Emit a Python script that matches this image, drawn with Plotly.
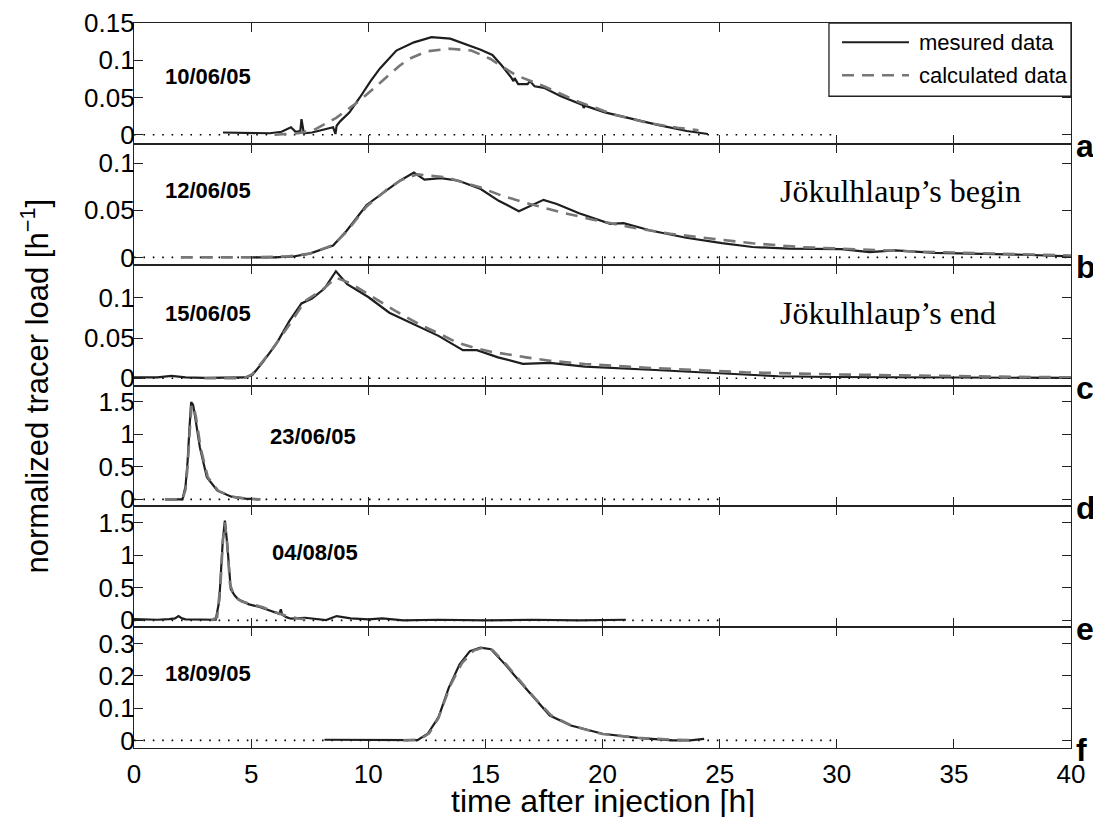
import plotly.graph_objects as go
from plotly.subplots import make_subplots

# ---------------- data ----------------
# panel a: 10/06/05
a_t = [3.8, 4.5, 5.2, 5.8, 6.3, 6.7, 6.9, 7.1, 7.15, 7.25, 7.6, 8.0, 8.5, 8.6, 8.65, 8.8, 9.2, 9.64, 10.1, 10.5, 11.2,
       11.95, 12.7, 13.5, 14.3, 14.8, 15.3, 15.7, 16.1, 16.2, 16.25, 16.4, 16.8, 16.9, 17.1, 17.5, 18.2, 19.15, 19.2,
       19.25, 20.1, 21.3, 22.4, 23.6, 24.5]
a_y = [0.003, 0.003, 0.002, 0.002, 0.004, 0.010, 0.004, 0.005, 0.021, 0.002, 0.003, 0.006, 0.010, 0.001, 0.012,
       0.018, 0.030, 0.050, 0.072, 0.089, 0.113, 0.124, 0.131, 0.129, 0.120, 0.114, 0.107, 0.093, 0.077, 0.072,
       0.076, 0.068, 0.068, 0.072, 0.065, 0.063, 0.052, 0.040, 0.036, 0.039, 0.030, 0.021, 0.013, 0.005, 0.001]
ac_t = [6.0, 7.0, 7.65, 8.65, 9.64, 10.5, 11.35, 11.76, 12.5, 13.5, 14.4, 15.2, 16.3, 17.5, 19.0, 20.5, 22.0, 23.2, 24.1]
ac_y = [0.0, 0.002, 0.006, 0.023, 0.046, 0.069, 0.093, 0.102, 0.112, 0.1155, 0.113, 0.102, 0.080, 0.065, 0.044,
        0.027, 0.0155, 0.0095, 0.006]

# panel b: 12/06/05
b_t = [5.0, 6.0, 6.8, 7.5, 8.5, 9.07, 9.93, 10.8, 11.35, 11.95, 12.4, 13.1, 13.86, 14.8, 15.57, 16.43, 17.48, 18.05,
       19.0, 20.33, 20.9, 22.05, 23.57, 25.1, 26.4, 27.95, 30.2, 31.4, 32.5, 34.2, 36.1, 38.0, 40.0]
b_y = [0.0, 0.0, 0.001, 0.004, 0.0126, 0.028, 0.0556, 0.071, 0.0813, 0.090, 0.0824, 0.084, 0.0813, 0.0725, 0.060,
       0.049, 0.061, 0.0567, 0.0468, 0.0356, 0.0363, 0.0285, 0.0208, 0.0151, 0.011, 0.0092, 0.0088, 0.0056, 0.0074,
       0.0049, 0.0039, 0.0028, 0.001]
bc_t = [2.0, 5.0, 6.5, 7.5, 8.5, 9.07, 9.93, 10.8, 11.4, 12.1, 13.3, 14.8, 15.7, 16.9, 18.2, 19.6, 21.2, 22.9, 24.7,
        26.4, 28.5, 31.0, 33.3, 36.0, 40.0]
bc_y = [0.0, 0.0, 0.001, 0.004, 0.013, 0.027, 0.054, 0.072, 0.082, 0.088, 0.085, 0.074, 0.0655, 0.0567, 0.048, 0.040,
        0.032, 0.025, 0.0197, 0.015, 0.0109, 0.0081, 0.0063, 0.0046, 0.002]

# panel c: 15/06/05
c_t = [0.0, 1.0, 1.6, 2.2, 3.0, 4.0, 4.75, 5.05, 5.5, 6.1, 6.63, 7.15, 7.6, 8.13, 8.62, 9.1, 10.0, 10.9, 11.95, 13.0,
       14.04, 14.64, 15.54, 16.6, 17.75, 19.25, 22.25, 24.94, 27.5, 29.7, 32.7, 40.0]
c_y = [0.001, 0.001, 0.003, 0.001, 0.0005, 0.001, 0.001, 0.004, 0.02, 0.044, 0.071, 0.093, 0.099, 0.1115, 0.133,
       0.117, 0.101, 0.0815, 0.067, 0.0527, 0.035, 0.035, 0.026, 0.018, 0.019, 0.0144, 0.0103, 0.0066, 0.0025,
       0.0016, 0.0012, 0.0004]
cc_t = [3.0, 4.7, 5.05, 5.8, 6.55, 7.3, 8.05, 8.62, 9.25, 10.15, 11.2, 12.25, 13.0, 13.74, 14.5, 15.24, 16.0, 16.74,
        17.75, 19.25, 21.5, 23.74, 26.1, 29.7, 32.7, 36.5, 40.0]
cc_y = [0.0, 0.0, 0.005, 0.032, 0.063, 0.096, 0.110, 0.125, 0.118, 0.102, 0.083, 0.066, 0.056, 0.045, 0.038, 0.033,
        0.029, 0.026, 0.0218, 0.0177, 0.0136, 0.0103, 0.0074, 0.0049, 0.0033, 0.0021, 0.0012]

# panel d: 23/06/05
d_t = [1.32, 2.07, 2.2, 2.29, 2.37, 2.44, 2.52, 2.59, 2.81, 3.11, 3.56, 4.16, 4.76, 5.36]
d_y = [0.0, 0.0, 0.2, 0.59, 1.1, 1.49, 1.45, 1.31, 0.80, 0.34, 0.133, 0.041, 0.01, 0.0]
dc_t = [1.32, 2.07, 2.2, 2.3, 2.38, 2.46, 2.55, 2.65, 2.85, 3.15, 3.6, 4.2, 4.8, 5.4]
dc_y = [0.0, 0.0, 0.15, 0.55, 1.05, 1.45, 1.42, 1.25, 0.78, 0.34, 0.13, 0.04, 0.01, 0.0]

# panel e: 04/08/05
e_t = [0.0, 0.5, 1.0, 1.5, 1.75, 1.9, 2.05, 2.2, 2.8, 3.49, 3.64, 3.79, 3.88, 3.98, 4.13, 4.3, 4.46, 4.91, 5.36, 5.81,
       6.2, 6.27, 6.32, 6.5, 6.7, 7.3, 7.8, 8.2, 8.65, 9.25, 10.0, 10.6, 11.5, 13.0, 15.0, 17.0, 19.0, 21.0]
e_y = [0.02, 0.01, 0.01, 0.02, 0.03, 0.066, 0.03, 0.015, 0.01, 0.01, 0.3, 1.22, 1.53, 1.17, 0.48, 0.38, 0.32, 0.246,
       0.205, 0.143, 0.1, 0.17, 0.09, 0.05, 0.026, 0.04, 0.02, 0.005, 0.066, 0.03, 0.015, 0.03, 0.0, 0.01, 0.0, 0.01,
       0.0, 0.01]
ec_t = [3.3, 3.55, 3.7, 3.8, 3.88, 3.97, 4.1, 4.3, 4.6, 5.0, 5.5, 6.0, 6.5, 7.0, 7.5]
ec_y = [0.0, 0.05, 0.6, 1.25, 1.5, 1.2, 0.55, 0.36, 0.29, 0.25, 0.2, 0.13, 0.07, 0.03, 0.01]

# panel f: 18/09/05
f_t = [8.13, 9.0, 10.0, 11.0, 12.1, 12.54, 13.0, 13.44, 13.9, 14.34, 14.79, 15.24, 15.84, 16.44, 17.04, 17.75, 18.65,
       20.0, 21.5, 23.0, 23.74, 24.34]
f_y = [0.002, 0.002, 0.001, 0.0, 0.001, 0.0206, 0.072, 0.164, 0.236, 0.277, 0.288, 0.283, 0.236, 0.185, 0.134,
       0.077, 0.046, 0.0206, 0.008, 0.0, 0.0, 0.005]
fc_t = [11.5, 12.2, 12.6, 13.0, 13.5, 14.0, 14.5, 14.9, 15.3, 15.9, 16.5, 17.1, 17.8, 18.7, 20.0, 21.5, 23.0, 24.0]
fc_y = [0.0, 0.003, 0.022, 0.07, 0.17, 0.24, 0.279, 0.288, 0.281, 0.235, 0.183, 0.132, 0.078, 0.045, 0.02, 0.008,
        0.002, 0.001]

dates = ["10/06/05", "12/06/05", "15/06/05", "23/06/05", "04/08/05", "18/09/05"]
letters = ["a", "b", "c", "d", "e", "f"]
zero_end = [30, 40, 40, 25, 25, 30]
yranges = [[-0.0122, 0.15], [-0.0077, 0.1204], [-0.009, 0.1412], [-0.107, 1.745], [-0.104, 1.748], [-0.0236, 0.3515]]
ytickvals = [[0, 0.05, 0.1, 0.15], [0, 0.05, 0.1], [0, 0.05, 0.1], [0, 0.5, 1, 1.5], [0, 0.5, 1, 1.5], [0, 0.1, 0.2, 0.3]]
yticktext = [["0", "0.05", "0.1", "0.15"], ["0", "0.05", "0.1"], ["0", "0.05", "0.1"], ["0", "0.5", "1", "1.5"],
             ["0", "0.5", "1", "1.5"], ["0", "0.1", "0.2", "0.3"]]
xticks = [0, 5, 10, 15, 20, 25, 30, 35, 40]
legend_labels = ["mesured data", "calculated data"]
measured = [(a_t, a_y), (b_t, b_y), (c_t, c_y), (d_t, d_y), (e_t, e_y), (f_t, f_y)]
calculated = [(ac_t, ac_y), (bc_t, bc_y), (cc_t, cc_y), (dc_t, dc_y), (ec_t, ec_y), (fc_t, fc_y)]
date_pos = [(1.24, 0.56), (1.24, 0.61), (1.24, 0.60), (5.72, 0.58), (5.8, 0.62), (1.24, 0.62)]

SANS = "Liberation Sans, Arial, Helvetica, sans-serif"
SERIF = "Liberation Serif, Times New Roman, serif"
AX = "#222222"
MEAS = dict(color="#1e1e1e", width=2.2)
CALC = dict(color="#777777", width=2.6, dash="12px,8px")

fig = make_subplots(rows=6, cols=1, shared_xaxes=True, vertical_spacing=0)

for i in range(6):
    r = i + 1
    fig.add_trace(go.Scatter(x=[0, zero_end[i]], y=[0, 0], mode="lines",
                             line=dict(color="black", width=1.6, dash="1.6px,7.8px"),
                             showlegend=False, hoverinfo="skip"), row=r, col=1)
    mt, my = measured[i]
    fig.add_trace(go.Scatter(x=mt, y=my, mode="lines", name=legend_labels[0], line=MEAS,
                             showlegend=False), row=r, col=1)
    ct, cy = calculated[i]
    fig.add_trace(go.Scatter(x=ct, y=cy, mode="lines", name=legend_labels[1], line=CALC,
                             showlegend=False), row=r, col=1)

    fig.update_yaxes(range=yranges[i], tickvals=ytickvals[i], ticktext=yticktext[i],
                     ticks="inside", ticklen=9, tickwidth=1.3, tickcolor=AX,
                     showline=True, linecolor=AX, linewidth=1.3, mirror="allticks",
                     showgrid=False, zeroline=False, fixedrange=True, ticklabelstandoff=-7,
                     automargin=False,
                     tickfont=dict(family=SANS, size=26, color="black"), row=r, col=1)
    fig.update_xaxes(range=[0, 40], tickvals=xticks, ticktext=[str(v) for v in xticks],
                     ticks="inside", ticklen=9, tickwidth=1.3, tickcolor=AX,
                     showline=True, linecolor=AX, linewidth=1.3, mirror="allticks",
                     showgrid=False, zeroline=False, showticklabels=(i == 5), ticklabelstandoff=3,
                     automargin=False,
                     tickfont=dict(family=SANS, size=26, color="black"), row=r, col=1)

    yref = "y domain" if i == 0 else "y%d domain" % r
    xref = "x" if i == 0 else "x%d" % r
    fig.add_annotation(x=date_pos[i][0], y=date_pos[i][1], xref=xref, yref=yref, text="<b>%s</b>" % dates[i],
                       showarrow=False, xanchor="left", yanchor="middle",
                       font=dict(family=SANS, size=22, color="black"))
    fig.add_annotation(x=1.0, y=0, xref="paper", yref=yref, text="<b>%s</b>" % letters[i],
                       showarrow=False, xanchor="left", yanchor="middle", xshift=3, yshift=-2,
                       font=dict(family=SANS, size=32, color="black"))

fig.add_annotation(x=27.5, y=0.61, xref="x2", yref="y2 domain", text="Jökulhlaup’s begin", showarrow=False,
                   xanchor="left", yanchor="middle", font=dict(family=SERIF, size=32, color="black"))
fig.add_annotation(x=27.5, y=0.60, xref="x3", yref="y3 domain", text="Jökulhlaup’s end", showarrow=False,
                   xanchor="left", yanchor="middle", font=dict(family=SERIF, size=32, color="black"))

fig.add_annotation(x=-0.1057, y=0.5, xref="paper", yref="paper", text="normalized tracer load [h<sup>−1</sup>]",
                   textangle=-90, showarrow=False, xanchor="center", yanchor="middle",
                   font=dict(family=SANS, size=31, color="black"))
fig.add_annotation(x=0.501, y=-0.0731, xref="paper", yref="paper", text="time after injection [h]",
                   showarrow=False, xanchor="center", yanchor="middle",
                   font=dict(family=SANS, size=32, color="black"))

# legend box (drawn in paper coordinates, top-right of panel a)
fig.add_shape(type="rect", xref="paper", yref="paper", x0=0.7417, x1=1.0, y0=0.899, y1=1.0,
              line=dict(color=AX, width=1.3), fillcolor="white", layer="above")
fig.add_shape(type="line", xref="paper", yref="paper", x0=0.7556, x1=0.8271, y0=0.9734, y1=0.9734,
              line=dict(color=MEAS["color"], width=2), layer="above")
fig.add_shape(type="line", xref="paper", yref="paper", x0=0.7556, x1=0.8271, y0=0.9279, y1=0.9279,
              line=dict(color=CALC["color"], width=2.4, dash="12px,8px"), layer="above")
for lab, yy in zip(legend_labels, [0.9734, 0.9279]):
    fig.add_annotation(x=0.8356, y=yy, xref="paper", yref="paper", text=lab, showarrow=False,
                       xanchor="left", yanchor="middle", font=dict(family=SANS, size=22, color="black"))

fig.update_layout(
    width=1093, height=809,
    margin=dict(l=126, r=30, t=15, b=69),
    paper_bgcolor="white", plot_bgcolor="white",
    showlegend=False,
)

fig.write_html("out.html")
